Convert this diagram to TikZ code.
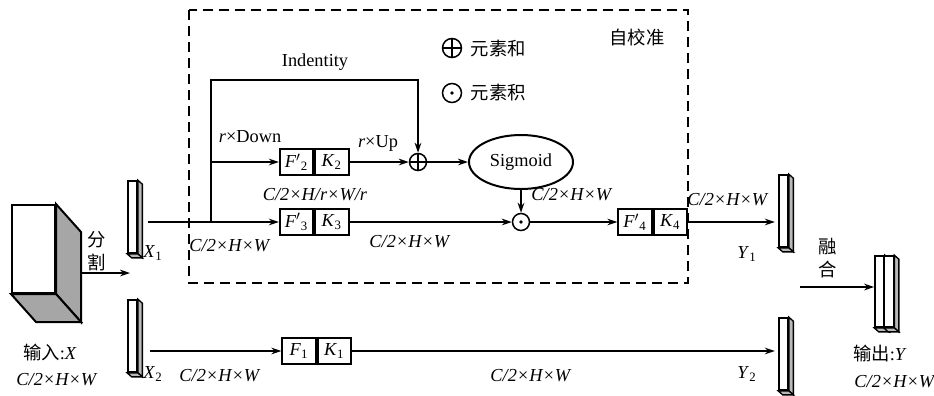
\documentclass[tikz,border=0pt]{standalone}
\usepackage{fontspec}
\setmainfont{Liberation Serif}
\newfontfamily\cjk{Noto Sans CJK SC}
\usepackage{tikz}
\usetikzlibrary{shapes, arrows.meta, positioning}

\newcommand{\sub}[1]{\textsubscript{\upshape#1}}
\newcommand{\dimchw}{\textit{C/2×H×W}}
% shaded side and bottom of a thin feature slab
\newcommand{\slabside}[1]{%
  \filldraw[fill=gray!55, line width=0.8pt] (#1.north east) -- ++(4.5,4) -- ([shift={(4.5,4)}]#1.south east) -- (#1.south east) -- cycle;
  \filldraw[fill=gray!55, line width=0.8pt] (#1.south west) -- (#1.south east) -- ++(4.5,4) -- ([shift={(4.5,4)}]#1.south west) -- cycle;}

\begin{document}
\begin{tikzpicture}[
  x=0.6pt, y=-0.6pt,
  >={Stealth[length=6pt,width=4pt]},
  font=\fontsize{11}{13}\selectfont,
  line/.style={line width=1pt},
  cell/.style={rectangle, draw, line width=1.2pt, minimum width=20pt, minimum height=15.6pt, inner sep=0pt},
  slab/.style={rectangle, draw, line width=1pt, fill=white, minimum width=5.4pt, minimum height=43.2pt, inner sep=0pt},
  op/.style={circle, draw, line width=0.9pt, minimum size=10.2pt, inner sep=0pt},
  oplus/.style={op, path picture={\draw[line width=0.9pt] (path picture bounding box.north) -- (path picture bounding box.south) (path picture bounding box.west) -- (path picture bounding box.east);}},
  odot/.style={op, path picture={\fill (path picture bounding box.center) circle (1.1pt);}},
  lab/.style={inner sep=1pt},
]
  \useasboundingbox (0,0) rectangle (934,395);

  % self-calibration frame
  \draw[line width=1pt, dash pattern=on 6pt off 3.6pt] (189,10) rectangle (688,283);

  % input cube
  \node[draw, line width=1.2pt, minimum width=25.8pt, minimum height=52.8pt, inner sep=0pt] (inp) at (33.5,249) {};
  \filldraw[fill=gray!70, line width=1.2pt] (inp.north east) -- ++(25,28) -- ([shift={(25,28)}]inp.south east) -- (inp.south east) -- cycle;
  \filldraw[fill=gray!70, line width=1.2pt] (inp.south west) -- (inp.south east) -- ++(25,28) -- ([shift={(25,28)}]inp.south west) -- cycle;
  \node[lab] (inpl) at (50,352) {{\cjk 输入}:\textit{X}};
  \node[lab] (inpd) at (57,380) {\dimchw};
  \node[lab, align=center, font=\fontsize{11}{14}\selectfont\cjk] (splitl) at (97,251) {分\\割};
  \coordinate (cut) at (80,273);
  \coordinate (split) at (130,273);
  \draw[line,->] (cut) -- (split);

  % split halves
  \node[slab] (x1) at (132.5,217) {};
  \slabside{x1}
  \node[slab] (x2) at (132.5,336) {};
  \slabside{x2}
  \node[lab] (x1l) at (153,253) {\textit{X}\sub{1}};
  \node[lab] (x2l) at (153,374) {\textit{X}\sub{2}};

  % calibration branch
  \coordinate (x1o) at (148,222);
  \coordinate (br) at (211,222);
  \coordinate (top) at (211,80);
  \node[cell] (f2) at (296.5,162) {\textit{F}$'$\sub{2}};
  \node[cell, right=0pt of f2] (k2) {\textit{K}\sub{2}};
  \node[cell] (f3) at (296.5,222) {\textit{F}$'$\sub{3}};
  \node[cell, right=0pt of f3] (k3) {\textit{K}\sub{3}};
  \node[oplus] (plus) at (418,162) {};
  \node[ellipse, draw, line width=1.2pt, minimum width=62.4pt, minimum height=32.4pt, inner sep=0pt] (sig) at (521,162) {Sigmoid};
  \node[odot] (dot) at (521,222) {};
  \node[cell] (f4) at (635,222) {\textit{F}$'$\sub{4}};
  \node[cell, right=0pt of f4] (k4) {\textit{K}\sub{4}};

  \draw[line,->] (x1o) -- (f3);
  \draw[line,->] (br) |- (f2);
  \draw[line,->] (br) -- (top) -| (plus);
  \draw[line,->] (k2) -- (plus);
  \draw[line,->] (plus) -- (sig);
  \draw[line,->] (sig) -- (dot);
  \draw[line,->] (k3) -- (dot);
  \draw[line,->] (dot) -- (f4);

  \node[lab] (idl) at (315,62) {Indentity};
  \node[lab] (downl) at (250,137) {\textit{r}×Down};
  \node[lab] (upl) at (378,143) {\textit{r}×Up};
  \node[lab] (d1) at (315,195) {\textit{C/2×H/r×W/r}};
  \node[lab] (d2) at (230,246) {\dimchw};
  \node[lab] (d3) at (410,242) {\dimchw};
  \node[lab] (d4) at (572,195) {\dimchw};
  \node[lab] (d5) at (728,200) {\dimchw};

  % legend
  \node[oplus, minimum size=11.4pt] (lgplus) at (452,48) {};
  \node[lab, right=4pt of lgplus, font=\fontsize{11}{13}\selectfont\cjk] (lgsum) {元素和};
  \node[odot, minimum size=11.4pt] (lgdot) at (452,93) {};
  \node[lab, right=4pt of lgdot, font=\fontsize{11}{13}\selectfont\cjk] (lgprod) {元素积};
  \node[lab, font=\fontsize{11}{13}\selectfont\cjk] (calib) at (637,37) {自校准};

  % plain branch
  \coordinate (x2o) at (150,351);
  \node[cell] (f1) at (299,351) {\textit{F}\sub{1}};
  \node[cell, right=0pt of f1] (k1) {\textit{K}\sub{1}};
  \draw[line,->] (x2o) -- (f1);
  \node[lab] (d6) at (220,376) {\dimchw};
  \node[lab] (d7) at (531,376) {\dimchw};

  % outputs of both branches
  \node[slab] (y1) at (783.5,211) {};
  \slabside{y1}
  \node[slab] (y2) at (783.5,354) {};
  \slabside{y2}
  \draw[line,->, shorten >=2pt] (k4) -- (k4 -| y1.west);
  \draw[line,->, shorten >=2pt] (k1) -- (k1 -| y2.west);
  \node[lab] (y1l) at (747,254) {\textit{Y}\sub{1}};
  \node[lab] (y2l) at (747,374) {\textit{Y}\sub{2}};

  % fusion
  \node[lab, align=center, font=\fontsize{11}{14}\selectfont\cjk] (fusel) at (828,258) {融\\合};
  \node[slab, minimum height=42.6pt] (out1) at (879.5,291.5) {};
  \slabside{out1}
  \node[slab, minimum height=42.6pt] (out2) at (889,291.5) {};
  \slabside{out2}
  \coordinate (merge) at (800,287);
  \draw[line,->] (merge) -- (merge -| out1.west);
  \node[lab] (outl) at (880,353) {{\cjk 输出}:\textit{Y}};
  \node[lab] (outd) at (895,382) {\dimchw};
\end{tikzpicture}
\end{document}
